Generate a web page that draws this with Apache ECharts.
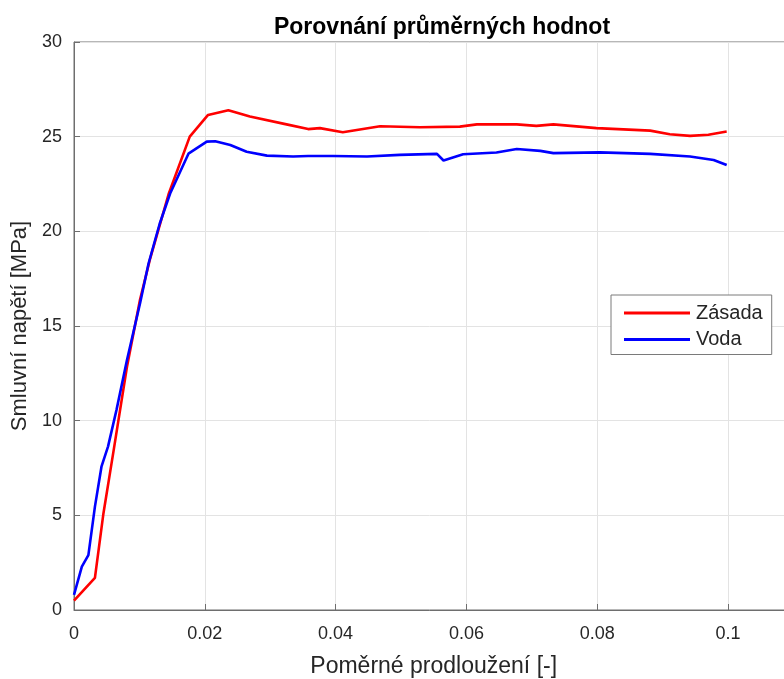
<!DOCTYPE html>
<html>
<head>
<meta charset="utf-8">
<script src="https://cdn.jsdelivr.net/npm/echarts@6/dist/echarts.min.js"></script>
<style>
  html, body { margin: 0; padding: 0; background: #fff; }
  #chart { width: 784px; height: 679px; }
</style>
</head>
<body>
<div id="chart"></div>
<script>
// Average stress–strain curves for two test conditions
const seriesNames = ['Zásada', 'Voda'];

const zasadaX = [0, 0.0032, 0.0045, 0.006, 0.0081, 0.0101, 0.0116, 0.0145, 0.0177, 0.0205, 0.0236, 0.0269,
  0.0325, 0.0358, 0.0376, 0.0411, 0.0468, 0.0529, 0.059, 0.0616, 0.0677, 0.0707, 0.0733, 0.0799,
  0.0881, 0.0911, 0.0942, 0.097, 0.0998];
const zasadaY = [0.5, 1.7, 5.1, 8.3, 12.85, 16.4, 18.5, 22.0, 25.0, 26.15, 26.4, 26.06,
  25.65, 25.4, 25.45, 25.23, 25.55, 25.5, 25.53, 25.65, 25.65, 25.57, 25.65, 25.45,
  25.32, 25.13, 25.04, 25.1, 25.27];

const vodaX = [0, 0.0012, 0.0022, 0.0032, 0.0042, 0.0052, 0.0065, 0.0081, 0.0101, 0.0114, 0.0131, 0.0147,
  0.0175, 0.0203, 0.0216, 0.0239, 0.0264, 0.0295, 0.0335, 0.0358, 0.0396, 0.0448, 0.0498, 0.0555,
  0.0565, 0.0595, 0.0646, 0.0677, 0.0713, 0.0733, 0.0804, 0.0881, 0.0942, 0.0978, 0.0998];
const vodaY = [0.8, 2.29, 2.9, 5.46, 7.57, 8.63, 10.57, 13.2, 16.2, 18.3, 20.4, 22.0,
  24.1, 24.74, 24.76, 24.56, 24.2, 24.0, 23.95, 23.98, 23.98, 23.95, 24.04, 24.09,
  23.74, 24.07, 24.16, 24.35, 24.25, 24.13, 24.17, 24.09, 23.95, 23.77, 23.5];

const xTicks = [0, 0.02, 0.04, 0.06, 0.08, 0.1];
const yTicks = [0, 5, 10, 15, 20, 25, 30];

const pairs = (xs, ys) => xs.map((x, i) => [x, ys[i]]);

const font = 'Liberation Sans, Arial, Helvetica, sans-serif';
const axisGray = '#6e6e6e';
const textGray = '#262626';

const chart = echarts.init(document.getElementById('chart'), null, { renderer: 'canvas' });
chart.setOption({
  backgroundColor: '#ffffff',
  animation: false,
  title: {
    text: 'Porovnání průměrných hodnot',
    left: 437,
    textAlign: 'center',
    top: 11,
    textStyle: { fontFamily: font, fontSize: 23, fontWeight: 'bold', color: '#000' }
  },
  grid: {
    left: 74, top: 42, width: 719.4, height: 568,
    outerBoundsMode: 'none',
    containLabel: false,
    show: true, borderColor: axisGray, borderWidth: 1, backgroundColor: 'transparent'
  },
  legend: {
    orient: 'vertical',
    left: 611, top: 295,
    data: seriesNames,
    icon: 'rect',
    itemWidth: 66, itemHeight: 3,
    itemGap: 6.5,
    padding: [8, 9, 5, 13],
    borderColor: '#7a7a7a', borderWidth: 1,
    backgroundColor: '#fff',
    textStyle: { fontFamily: font, fontSize: 20, lineHeight: 20, color: textGray, padding: [0, 0, 0, 1] }
  },
  xAxis: {
    type: 'value',
    min: 0, max: 0.11, interval: 0.02,
    name: 'Poměrné prodloužení [-]',
    nameLocation: 'middle',
    nameGap: 45,
    nameTextStyle: { fontFamily: font, fontSize: 23, color: textGray },
    axisLine: { show: true, lineStyle: { color: axisGray, width: 1 } },
    axisTick: { show: true, inside: true, length: 6, lineStyle: { color: axisGray } },
    axisLabel: {
      fontFamily: font, fontSize: 18, color: textGray, margin: 15,
      showMaxLabel: false,
      formatter: v => (xTicks.some(t => Math.abs(t - v) < 1e-9) ? String(+v.toFixed(2)) : '')
    },
    splitLine: { show: true, lineStyle: { color: '#e3e3e3', width: 1 } }
  },
  yAxis: {
    type: 'value',
    min: 0, max: 30, interval: 5,
    name: 'Smluvní napětí [MPa]',
    nameLocation: 'middle',
    nameGap: 40,
    nameTextStyle: { fontFamily: font, fontSize: 22, color: textGray },
    axisLine: { show: true, lineStyle: { color: axisGray, width: 1 } },
    axisTick: { show: true, inside: true, length: 6, lineStyle: { color: axisGray } },
    axisLabel: {
      fontFamily: font, fontSize: 18, color: textGray, margin: 12,
      formatter: v => (yTicks.includes(v) ? String(v) : '')
    },
    splitLine: { show: true, lineStyle: { color: '#e3e3e3', width: 1 } }
  },
  series: [
    {
      name: seriesNames[0], type: 'line', data: pairs(zasadaX, zasadaY),
      showSymbol: false, color: '#ff0000',
      lineStyle: { color: '#ff0000', width: 2.6 }, z: 3
    },
    {
      name: seriesNames[1], type: 'line', data: pairs(vodaX, vodaY),
      showSymbol: false, color: '#0000ff',
      lineStyle: { color: '#0000ff', width: 2.6 }, z: 4
    }
  ]
});
</script>
</body>
</html>
